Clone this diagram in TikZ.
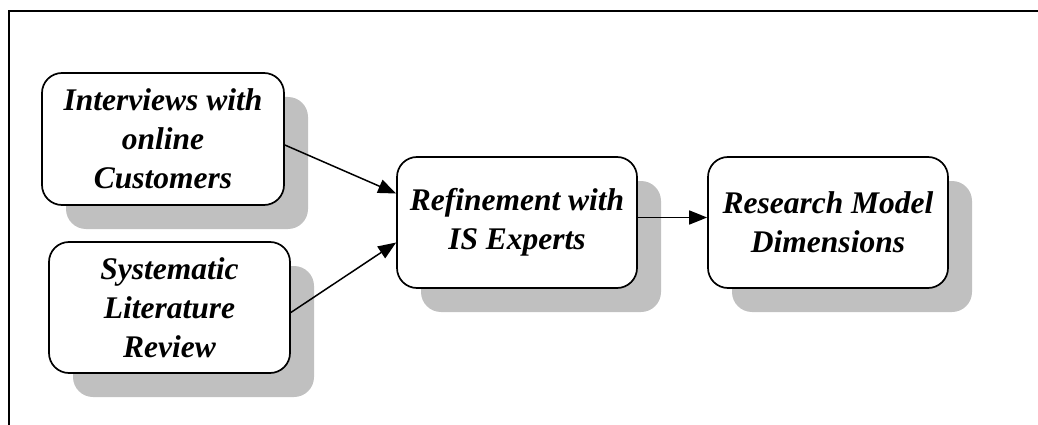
\documentclass[tikz,border=0pt]{standalone}
\usepackage{fontspec}
\setmainfont{Liberation Serif}
\usetikzlibrary{arrows.meta,shadows}
\definecolor{shadowgray}{HTML}{C0C0C0}
\tikzset{
  stagebox/.style={draw=black, line width=1.7pt, fill=white, rounded corners=20pt,
    minimum width=241pt, minimum height=131pt, inner sep=0pt, align=center,
    font=\fontsize{31.5}{39}\selectfont\bfseries\itshape,
    general shadow={fill=shadowgray, shadow xshift=24pt, shadow yshift=-24pt}},
  flow/.style={line width=1.5pt, -{Triangle[length=18pt,width=14pt]}},
  frameline/.style={line width=2pt}
}
\begin{document}
\begin{tikzpicture}[x=1pt,y=-1pt]
\useasboundingbox (0,0) rectangle (1038,425);
% outer frame (top and left edges)
\draw[frameline] (1038,11) -- (9,11) -- (9,425);
% process stages
\node[stagebox, minimum width=242pt, minimum height=132pt] (b1) at (163,139) {Interviews with\\online\\Customers};
\node[stagebox] (b2) at (169.5,307.5) {Systematic\\Literature\\Review};
\node[stagebox, minimum width=240pt] (b3) at (517,222.5) {Refinement with\\IS Experts};
\node[stagebox, minimum width=240pt] (b4) at (828,222.5) {Research Model\\Dimensions};
% connectors
\draw[flow] ([yshift=-6pt]b1.east) -- ([yshift=29pt]b3.west);
\draw[flow] ([yshift=-5pt]b2.east) -- ([yshift=-20pt]b3.west);
\draw[flow] ([yshift=5pt]b3.east) -- ([yshift=5pt]b4.west);
\end{tikzpicture}
\end{document}
